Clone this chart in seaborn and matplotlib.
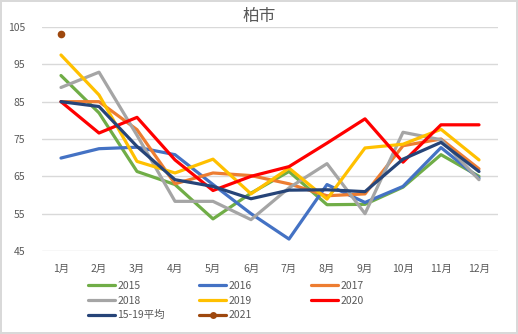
import matplotlib
matplotlib.use("Agg")
import matplotlib.pyplot as plt
import seaborn as sns
import pandas as pd

months = ["1月", "2月", "3月", "4月", "5月", "6月", "7月", "8月", "9月", "10月", "11月", "12月"]
y2015 = [92, 82, 66.3, 62.8, 53.6, 60.5, 66.3, 57.4, 57.5, 62.1, 70.8, 65]
y2016 = [69.9, 72.4, 72.8, 70.8, 62.8, 55, 48.2, 62.8, 58, 62.3, 72.7, 64.5]
y2017 = [85, 85, 77.5, 63, 65.9, 65.2, 63, 59.8, 60.3, 73.2, 75, 67]
y2018 = [88.8, 92.9, 76, 58.3, 58.3, 53.4, 61.9, 68.4, 55, 76.8, 74.8, 64.1]
y2019 = [97.5, 86.8, 69, 65.9, 69.6, 60.3, 67.2, 58.9, 72.6, 73.6, 77.6, 69.4]
y2020 = [85, 76.6, 80.8, 69.4, 61.2, 65, 67.6, 73.9, 80.4, 68.8, 78.8, 78.8]
yavg = [85, 83.7, 73, 64.1, 62.3, 59, 61.3, 61.4, 60.9, 69.6, 74.1, 66.3]
y2021 = [103.1]

series_names = ["2015", "2016", "2017", "2018", "2019", "2020", "15-19平均"]
series_vals = [y2015, y2016, y2017, y2018, y2019, y2020, yavg]
colors = ["#70AD47", "#4472C4", "#ED7D31", "#A5A5A5", "#FFC000", "#FF0000", "#264478"]
c2021 = "#9E480E"
yticks = [45, 55, 65, 75, 85, 95, 105]

rows = []
for name, vals in zip(series_names, series_vals):
    for m, v in zip(months, vals):
        rows.append({"month": m, "value": v, "series": name})
df = pd.DataFrame(rows)
df21 = pd.DataFrame({"month": months[:len(y2021)], "value": y2021, "series": ["2021"] * len(y2021)})

sns.set_theme(style="white")
plt.rcParams["font.family"] = ["Noto Sans CJK JP", "DejaVu Sans"]

fig = plt.figure(figsize=(5.18, 3.34), dpi=100)
fig.patch.set_facecolor("white")
fig.patch.set_edgecolor("#D9D9D9")
fig.patch.set_linewidth(1.5)
ax = fig.add_axes([42 / 518, 1 - 251 / 334, 456 / 518, 224 / 334])

# order x categories
ax.plot(months, [None] * len(months), alpha=0)
sns.lineplot(data=df, x="month", y="value", hue="series", hue_order=series_names,
             palette=colors, linewidth=2.3, ax=ax, legend=False, sort=False)
sns.lineplot(data=df21, x="month", y="value", color=c2021, marker="o", markersize=5.5,
             markeredgewidth=0, linewidth=2.3, ax=ax, legend=False)

ax.set_xlim(-0.5, 11.5)
ax.set_ylim(45, 105)
ax.set_yticks(yticks)
ax.set_yticklabels([str(t) for t in yticks])
ax.yaxis.grid(True, color="#D9D9D9", linewidth=1)
ax.xaxis.grid(False)
for s in ax.spines.values():
    s.set_visible(False)
ax.set_xlabel("")
ax.set_ylabel("")
ax.tick_params(axis="y", length=0, pad=12, labelsize=7.5, labelcolor="#595959")
ax.tick_params(axis="x", length=0, pad=9, labelsize=7.5, labelcolor="#595959")

fig.text(0.5, 1 - 17 / 334, "柏市", ha="center", va="center", fontsize=12, color="#595959")

from matplotlib.lines import Line2D
handles = [Line2D([0], [0], color=c, lw=2.3) for c in colors]
h21 = Line2D([0], [0], color=c2021, lw=2.3, marker="o", markersize=5, markeredgewidth=0)
all_h = handles + [h21]
all_l = series_names + ["2021"]
cols = [[0, 3, 6], [1, 4, 7], [2, 5]]
xs = [88, 199, 311]
for ci, idx in enumerate(cols):
    leg = fig.legend([all_h[i] for i in idx], [all_l[i] for i in idx],
                     loc="upper left", bbox_to_anchor=(xs[ci] / 518, 1 - 281 / 334),
                     frameon=False, fontsize=7.5, handlelength=2.6, handletextpad=0.2,
                     labelspacing=0.45, borderpad=0, borderaxespad=0)
    for t in leg.get_texts():
        t.set_color("#595959")

fig.savefig("out.png", dpi=100)
